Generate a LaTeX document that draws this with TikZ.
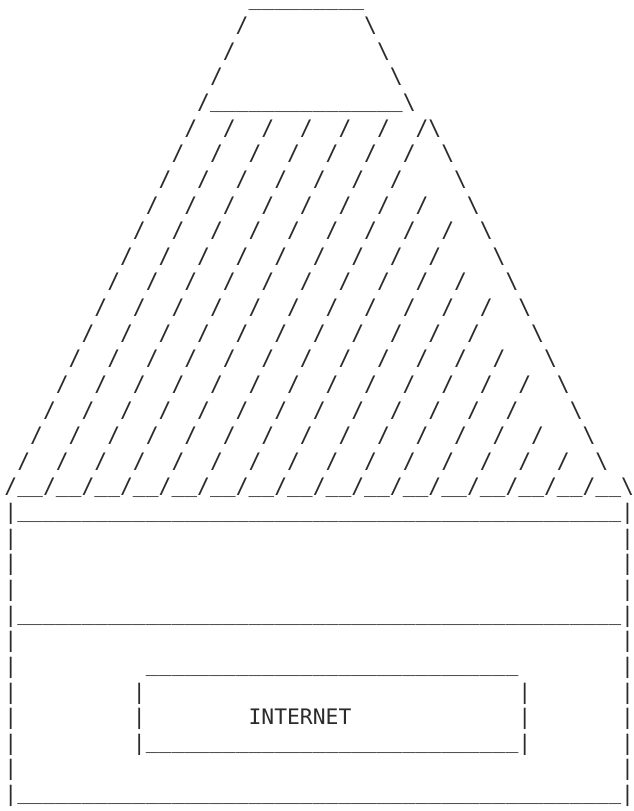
\documentclass[tikz,border=0pt]{standalone}
\usepackage{fontspec}
\newfontfamily\artfont{DejaVu Sans Mono}
\ExplSyntaxOn
\cs_new:Npn \repch #1#2 { \prg_replicate:nn {#1} {#2} }
\ExplSyntaxOff
\newcommand\us{\raisebox{1.8pt}{\textunderscore}}
\newcommand\bs{\textbackslash}
\definecolor{artgray}{HTML}{2B2B2B}
\begin{document}
\begin{tikzpicture}[x=1pt,y=1pt,
  artrow/.style={anchor=base west, inner sep=0pt, outer sep=0pt, text=artgray,
    font=\artfont\fontsize{21.34pt}{25.63pt}\selectfont}]
\useasboundingbox (0pt,0pt) rectangle (634pt,-811pt);
\begin{scope}[x=12.847pt, y=-25.63pt, shift={(4.5pt,-7pt)}]
% roof top
\node[artrow] (r0) at (19,0) {\repch{9}{\us}};
\node[artrow] (r1) at (18,1) {/\repch{9}{~}\bs};
\node[artrow] (r2) at (17,2) {/\repch{11}{~}\bs};
\node[artrow] (r3) at (16,3) {/\repch{13}{~}\bs};
\node[artrow] (r4) at (15,4) {/\repch{15}{\us}\bs};
% hatched triangle
\node[artrow] (r5) at (14,5) {\repch{6}{/~~}/\bs};
\node[artrow] (r6) at (13,6) {\repch{6}{/~~}/~~\bs};
\node[artrow] (r7) at (12,7) {\repch{6}{/~~}/\repch{4}{~}\bs};
\node[artrow] (r8) at (11,8) {\repch{7}{/~~}/~~~\bs};
\node[artrow] (r9) at (10,9) {\repch{8}{/~~}/~~\bs};
\node[artrow] (r10) at (9,10) {\repch{8}{/~~}/\repch{4}{~}\bs};
\node[artrow] (r11) at (8,11) {\repch{9}{/~~}/~~~\bs};
\node[artrow] (r12) at (7,12) {\repch{10}{/~~}/~~\bs};
\node[artrow] (r13) at (6,13) {\repch{10}{/~~}/\repch{4}{~}\bs};
\node[artrow] (r14) at (5,14) {\repch{11}{/~~}/~~~\bs};
\node[artrow] (r15) at (4,15) {\repch{12}{/~~}/~~\bs};
\node[artrow] (r16) at (3,16) {\repch{12}{/~~}/\repch{4}{~}\bs};
\node[artrow] (r17) at (2,17) {\repch{13}{/~~}/~~~\bs};
\node[artrow] (r18) at (1,18) {\repch{14}{/~~}/~~\bs};
\node[artrow] (r19) at (0,19) {/\repch{15}{\us\us/}\us\us\bs};
% body
\node[artrow] (r20) at (0,20) {|\repch{47}{\us}|};
\foreach \r in {21,22,23,25,30}
  \node[artrow] (r\r) at (0,\r) {|\repch{47}{~}|};
\node[artrow] (r24) at (0,24) {|\repch{47}{\us}|};
\node[artrow] (r26) at (0,26) {|\repch{10}{~}\repch{29}{\us}\repch{8}{~}|};
\node[artrow] (r27) at (0,27) {|\repch{9}{~}|\repch{29}{~}|\repch{7}{~}|};
\node[artrow] (r28) at (0,28) {|\repch{9}{~}|\repch{8}{~}INTERNET\repch{13}{~}|\repch{7}{~}|};
\node[artrow] (r29) at (0,29) {|\repch{9}{~}|\repch{29}{\us}|\repch{7}{~}|};
\node[artrow] (r31) at (0,31) {|\repch{47}{\us}|};
\end{scope}
\end{tikzpicture}
\end{document}
